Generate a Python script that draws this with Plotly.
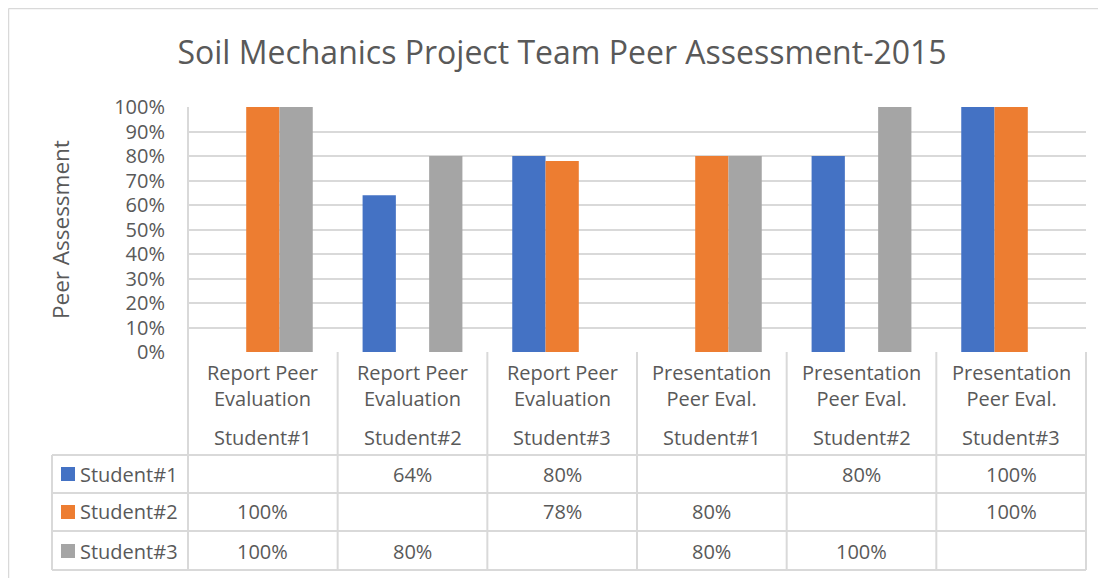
import plotly.graph_objects as go

# ---------------- data ----------------
groups = ["Report Peer<br>Evaluation"] * 3 + ["Presentation<br>Peer Eval."] * 3
students = ["Student#1", "Student#2", "Student#3"] * 2
categories = [g.replace("<br>", " ") + " " + s for g, s in zip(groups, students)]

series_names = ["Student#1", "Student#2", "Student#3"]
student1 = [None, 64, 80, None, 80, 100]
student2 = [100, None, 78, 80, None, 100]
student3 = [100, 80, None, 80, 100, None]
series_values = [student1, student2, student3]
colors = ["#4472C4", "#ED7D31", "#A5A5A5"]

title_text = "Soil Mechanics Project Team Peer Assessment-2015"
y_title = "Peer Assessment"
tick_vals = list(range(0, 101, 10))
tick_labels = [f"{v}%" for v in tick_vals]

# ---------------- layout geometry (screen pixels) ----------------
SW, SH = 1106, 578      # browser window
OFF = 8                 # default body margin of the page
W, H = SW - OFF, SH - OFF
PL, PR, PT, PB = 188, 1086, 107, 352   # plot area on screen
FONT = "Open Sans"
TXT = "#595959"
LINE = "#D9D9D9"
FS = 20

def py(p):  # screen y -> paper y
    return (PB - p) / (PB - PT)

def px(p):  # screen x -> paper x
    return (p - PL) / (PR - PL)

fig = go.Figure()
for name, vals, col in zip(series_names, series_values, colors):
    fig.add_trace(go.Bar(x=categories, y=vals, name=name, marker_color=col,
                         marker_line_width=0, showlegend=False))

shapes = []
annotations = []

# outer chart border (left and top visible)
shapes.append(dict(type="line", xref="paper", yref="paper", x0=px(8.5), x1=px(SW + 5),
                   y0=py(8.5), y1=py(8.5), line=dict(color=LINE, width=1.5)))
shapes.append(dict(type="line", xref="paper", yref="paper", x0=px(8.5), x1=px(8.5),
                   y0=py(8.5), y1=py(SH + 5), line=dict(color=LINE, width=1.5)))

# table grid
row_lines = [455, 493, 531, 570]
col_edges = [PL + i * (PR - PL) / 6 for i in range(7)]
for i, xe in enumerate(col_edges):
    top = PT if i == 0 else PB
    shapes.append(dict(type="line", xref="paper", yref="paper", x0=px(xe), x1=px(xe),
                       y0=py(top), y1=py(570), line=dict(color=LINE, width=2)))
for yl in row_lines:
    shapes.append(dict(type="line", xref="paper", yref="paper", x0=px(52), x1=px(PR),
                       y0=py(yl), y1=py(yl), line=dict(color=LINE, width=2)))
shapes.append(dict(type="line", xref="paper", yref="paper", x0=px(52), x1=px(52),
                   y0=py(455), y1=py(570), line=dict(color=LINE, width=2)))

# header labels
for cat, g, s in zip(categories, groups, students):
    annotations.append(dict(xref="x", yref="paper", x=cat, y=py(385), text=g,
                            showarrow=False, font=dict(family=FONT, size=FS, color=TXT),
                            yanchor="middle", xanchor="center", align="center"))
    annotations.append(dict(xref="x", yref="paper", x=cat, y=py(437), text=s,
                            showarrow=False, font=dict(family=FONT, size=FS, color=TXT),
                            yanchor="middle", xanchor="center"))

# data rows
row_centers = [474, 512, 551]
for rc, name, vals, col in zip(row_centers, series_names, series_values, colors):
    shapes.append(dict(type="rect", xref="paper", yref="paper", x0=px(61), x1=px(75),
                       y0=py(rc - 7), y1=py(rc + 7), fillcolor=col, line=dict(width=0)))
    annotations.append(dict(xref="paper", yref="paper", x=px(78), y=py(rc), text=name,
                            showarrow=False, xanchor="left", yanchor="middle",
                            font=dict(family=FONT, size=FS, color=TXT)))
    for cat, v in zip(categories, vals):
        if v is None:
            continue
        annotations.append(dict(xref="x", yref="paper", x=cat, y=py(rc), text=f"{v}%",
                                showarrow=False, xanchor="center", yanchor="middle",
                                font=dict(family=FONT, size=FS, color=TXT)))

# y axis title
annotations.append(dict(xref="paper", yref="paper", x=px(60), y=py(230), text=y_title,
                        textangle=-90, showarrow=False, xanchor="center", yanchor="middle",
                        font=dict(family=FONT, size=22.5, color=TXT)))

fig.update_layout(
    width=W, height=H,
    margin=dict(l=PL - OFF, r=SW - PR, t=PT - OFF, b=SH - PB, pad=0),
    paper_bgcolor="white", plot_bgcolor="white",
    barmode="group", bargap=0.333, bargroupgap=0,
    title=dict(text=title_text, x=(562 - OFF) / W, xanchor="center",
               y=1 - (53 - OFF) / H, yanchor="middle", yref="container",
               font=dict(family=FONT, size=32, color=TXT)),
    xaxis=dict(showticklabels=False, showgrid=False, zeroline=False, showline=False,
               ticks=""),
    yaxis=dict(range=[0, 100], tickmode="array", tickvals=tick_vals, ticktext=tick_labels,
               showgrid=True, gridcolor=LINE, gridwidth=1.5, zeroline=False, showline=False,
               ticks="", tickfont=dict(family=FONT, size=FS, color=TXT),
               ticklabelstandoff=22),
    shapes=shapes, annotations=annotations,
)

fig.write_html("out.html")
